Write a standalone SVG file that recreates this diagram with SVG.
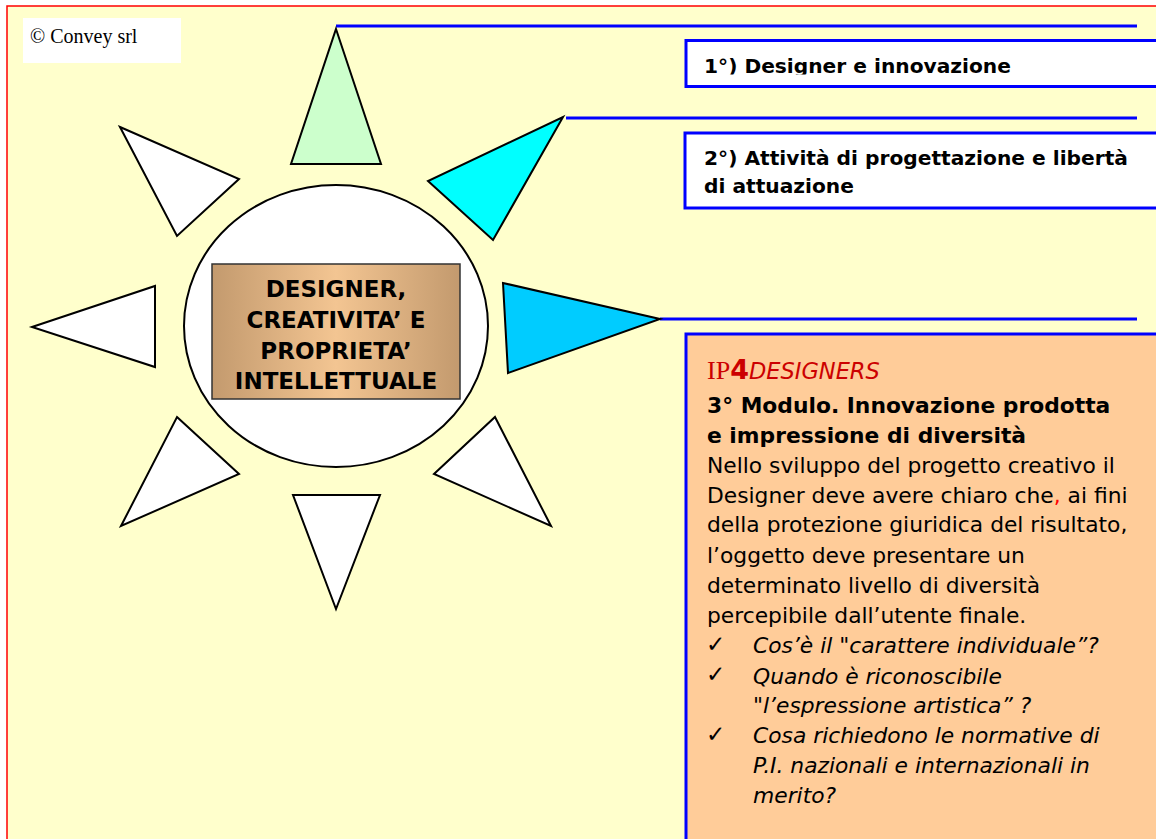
<svg xmlns="http://www.w3.org/2000/svg" width="1156" height="839" viewBox="0 0 1156 839">
<defs>
<style>
.tri{stroke:#000;stroke-width:2;stroke-linejoin:miter}
.conn{stroke:#0000FF;stroke-width:3;fill:none}
.box{stroke:#0000FF;stroke-width:3}
.hd{font-family:"DejaVu Sans",Verdana,sans-serif;font-weight:bold;font-size:20.2px;fill:#000}
.ctr{font-family:"DejaVu Sans",Verdana,sans-serif;font-weight:bold;font-size:23px;fill:#000;text-anchor:middle}
.body{font-family:"DejaVu Sans",Verdana,sans-serif;font-size:21.8px;fill:#000}
.it{font-style:italic}
.ck{font-family:"DejaVu Sans",sans-serif;font-size:23px;fill:#000}
</style>
<linearGradient id="brown" x1="0" y1="0" x2="1" y2="0">
<stop offset="0" stop-color="#C39A6E"/>
<stop offset="0.5" stop-color="#F3C592"/>
<stop offset="1" stop-color="#C39A6E"/>
</linearGradient>
<clipPath id="clip1"><rect x="686" y="40" width="470" height="34.5"/></clipPath>
</defs>
<rect x="0" y="0" width="1156" height="839" fill="#FFFFFF"/>
<rect x="7" y="6" width="1160" height="850" fill="#FFFFCC" stroke="#FF0000" stroke-width="1.5"/>

<g id="copyright">
<rect x="23" y="18" width="158" height="45" fill="#FFFFFF"/>
<text x="30" y="43" font-family="'Liberation Serif','Times New Roman',serif" font-size="20" fill="#000">© Convey srl</text>
</g>

<g id="connectors">
<line class="conn" x1="336" y1="26" x2="1137" y2="26"/>
<line class="conn" x1="566" y1="118" x2="1137" y2="118"/>
<line class="conn" x1="660" y1="319" x2="1137" y2="319"/>
</g>

<g id="ray-top"><polygon class="tri" fill="#CCFFCC" points="336,29 381,164 291,164"/></g>
<g id="ray-topright"><polygon class="tri" fill="#00FFFF" points="563,117 493,240 428,181"/></g>
<g id="ray-right"><polygon class="tri" fill="#00CCFF" points="503,283 660,319 508,373"/></g>
<g id="ray-bottomright"><polygon class="tri" fill="#FFFFFF" points="495,417 551,526 434,474"/></g>
<g id="ray-bottom"><polygon class="tri" fill="#FFFFFF" points="293,495 380,495 336,609"/></g>
<g id="ray-bottomleft"><polygon class="tri" fill="#FFFFFF" points="177,417 239,474 121,526"/></g>
<g id="ray-left"><polygon class="tri" fill="#FFFFFF" points="32,327 155,286 155,367"/></g>
<g id="ray-topleft"><polygon class="tri" fill="#FFFFFF" points="120,127 239,179 177,236"/></g>

<g id="center">
<ellipse cx="336" cy="326" rx="152" ry="141" fill="#FFFFFF" stroke="#000" stroke-width="2"/>
<rect x="212" y="264" width="248" height="135" fill="url(#brown)" stroke="#333" stroke-width="1.5"/>
<text class="ctr" x="336" y="297">DESIGNER,</text>
<text class="ctr" x="336" y="328">CREATIVITA’ E</text>
<text class="ctr" x="336" y="359">PROPRIETA’</text>
<text class="ctr" x="336" y="389">INTELLETTUALE</text>
</g>

<g id="box1">
<rect class="box" x="686" y="40.5" width="480" height="46" fill="#FFFFFF"/>
<text class="hd" x="704" y="73" clip-path="url(#clip1)">1°) Designer e innovazione</text>
</g>

<g id="box2">
<rect class="box" x="685" y="133" width="480" height="75" fill="#FFFFFF"/>
<text class="hd" x="704" y="165">2°) Attività di progettazione e libertà</text>
<text class="hd" x="704" y="193">di attuazione</text>
</g>

<g id="box3">
<rect class="box" x="686" y="334" width="480" height="520" fill="#FFCC99"/>
<text x="707" y="379" fill="#CC0000"><tspan font-family="'Liberation Serif','Times New Roman',serif" font-size="26">IP</tspan><tspan font-family="'DejaVu Sans',Verdana,sans-serif" font-weight="bold" font-size="27">4</tspan><tspan font-family="'DejaVu Sans',Verdana,sans-serif" font-style="italic" font-size="22.5">DESIGNERS</tspan></text>
<text class="body" x="707" y="413" font-weight="bold" font-size="22.8">3° Modulo. Innovazione prodotta</text>
<text class="body" x="707" y="443" font-weight="bold" font-size="22.8">e impressione di diversità</text>
<text class="body" x="707" y="473">Nello sviluppo del progetto creativo il</text>
<text class="body" x="707" y="503">Designer deve avere chiaro che<tspan fill="#FF0000">,</tspan> ai fini</text>
<text class="body" x="707" y="532">della protezione giuridica del risultato,</text>
<text class="body" x="707" y="563">l’oggetto deve presentare un</text>
<text class="body" x="707" y="593">determinato livello di diversità</text>
<text class="body" x="707" y="623">percepibile dall’utente finale.</text>
<text class="ck" x="706" y="652">✓</text>
<text class="ck" x="706" y="682">✓</text>
<text class="ck" x="706" y="742">✓</text>
<text class="body it" x="753" y="653">Cos’è il "carattere individuale”?</text>
<text class="body it" x="753" y="684">Quando è riconoscibile</text>
<text class="body it" x="753" y="713">"l’espressione artistica” ?</text>
<text class="body it" x="753" y="743">Cosa richiedono le normative di</text>
<text class="body it" x="753" y="773">P.I. nazionali e internazionali in</text>
<text class="body it" x="753" y="803">merito?</text>
</g>
</svg>
